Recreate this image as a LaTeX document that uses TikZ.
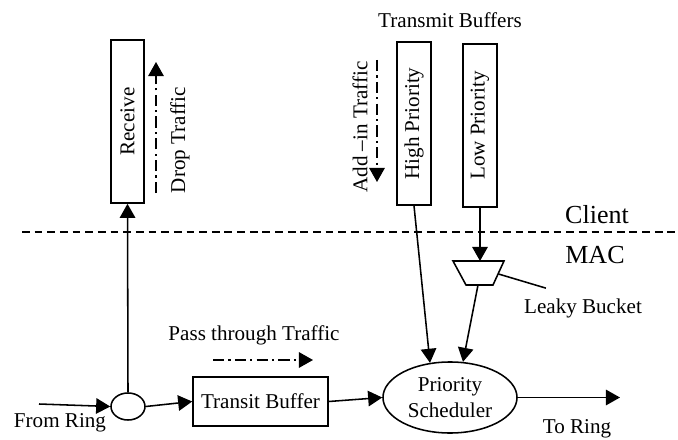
\documentclass[tikz,border=0pt]{standalone}
\usepackage{fontspec}
\setmainfont{Liberation Serif}
\usepackage{tikz}
\usetikzlibrary{arrows.meta}
\usetikzlibrary{shapes.geometric}
\usetikzlibrary{calc}

\tikzset{
  buf/.style={draw, line width=1.1pt, inner sep=0pt, font=\fontsize{15}{17}\selectfont},
  lbl/.style={font=\fontsize{15}{17}\selectfont, inner sep=0pt},
  big/.style={font=\fontsize{18.5}{20}\selectfont, inner sep=0pt},
  flow/.style={line width=1.1pt, -{Triangle[length=10pt,width=11pt]}},
  traffic/.style={line width=1.1pt, dash pattern=on 8pt off 3pt on 1.5pt off 3pt, -{Triangle[length=10pt,width=11pt]}}
}

\begin{document}
\begin{tikzpicture}[x=0.025cm, y=-0.025cm]
  \useasboundingbox (0,0) rectangle (678,440);

  % client side buffers
  \node[buf, minimum width=0.825cm, minimum height=4.075cm] (recv) at (127.5,121.5) {\rotatebox{90}{Receive}};
  \node[buf, minimum width=0.85cm, minimum height=4.075cm] (hipri) at (414,123.5) {\rotatebox{90}{High Priority}};
  \node[buf, minimum width=0.85cm, minimum height=4.075cm] (lopri) at (480,125.5) {\rotatebox{90}{Low Priority}};
  \node[lbl] (txbuf) at (450,20) {Transmit Buffers};

  % client / MAC boundary
  \coordinate (bl) at (22,232);
  \coordinate (br) at (678,232);
  \draw[line width=1pt, dash pattern=on 5.5pt off 3.5pt] (bl) -- (br);
  \node[big] (client) at (597,215) {Client};
  \node[big] (mac) at (595,255) {MAC};

  % MAC side
  \node[draw, ellipse, line width=1.1pt, minimum width=0.85cm, minimum height=0.675cm, inner sep=0pt] (split) at (128,406.5) {};
  \node[buf, minimum width=3.375cm, minimum height=1.225cm] (transit) at (260.5,401.5) {Transit Buffer};
  \node[buf, ellipse, minimum width=3.35cm, minimum height=1.775cm, align=center, font=\fontsize{15}{19}\selectfont] (sched) at (450,397.5) {Priority\\Scheduler};

  % leaky bucket
  \draw[line width=1.1pt, line join=miter] (453,261) -- (504,261) -- (493,285) -- (466,285) -- cycle;
  \coordinate (bktop) at (480,261);
  \coordinate (bkbot) at (478,285);
  \coordinate (bkside) at (498.5,274);
  \node[lbl] (bklbl) at (583,308) {Leaky Bucket};

  \coordinate (from) at (39,404);
  \coordinate (to) at (620,397.5);
  \node[lbl] (fromlbl) at (60,423) {From Ring};
  \node[lbl] (tolbl) at (577,429) {To Ring};

  % data paths
  \draw[flow] (from) -- (split.west);
  \draw[flow] (split.north) -- (recv.south);
  \draw[flow] (split.east) -- (transit.west);
  \draw[flow] (transit.east) -- (sched.west);
  \draw[flow] (hipri.south) -- (sched.120);
  \draw[flow] (lopri.south) -- (bktop);
  \draw[flow] (bkbot) -- (sched.70);
  \draw[flow] (sched.east) -- (to);
  \draw[line width=1.1pt] (bkside) -- ($(bklbl.north west)+(22,-10)$);

  % traffic directions
  \draw[traffic] (156,193) -- (156,62);
  \node[lbl, rotate=90] (droplbl) at (180,140) {Drop Traffic};
  \draw[traffic] (377,60) -- (377,182);
  \node[lbl, rotate=90] (addlbl) at (360,127) {Add --in Traffic};
  \draw[traffic] (213,360) -- (313,360);
  \node[lbl] (passlbl) at (254,335) {Pass through Traffic};
\end{tikzpicture}
\end{document}
